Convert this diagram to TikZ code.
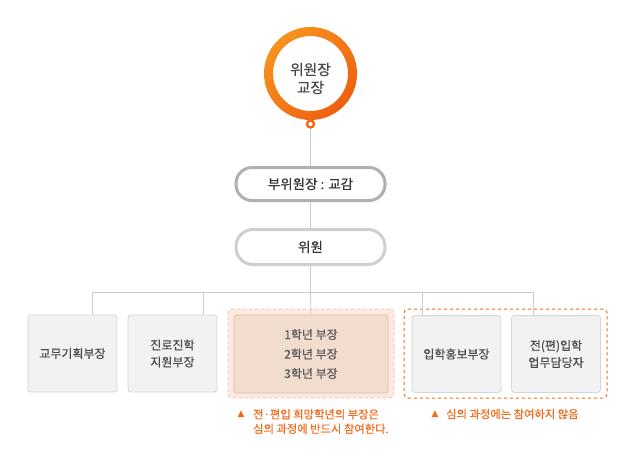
\documentclass[tikz,border=0pt]{standalone}
\usepackage{fontspec}
\setmainfont{Noto Sans CJK KR}[FakeBold=0.4]
\newfontfamily\symf{DejaVu Sans}
\definecolor{txt}{HTML}{4A4A4A}
\definecolor{org}{HTML}{F26B1D}
\definecolor{orgL}{HTML}{F7931E}
\definecolor{orgD}{HTML}{EF5F0F}
\definecolor{wire}{HTML}{CCCCCC}
\definecolor{boxfill}{HTML}{F2F2F2}
\definecolor{boxline}{HTML}{D6D6D6}
\definecolor{peach}{HTML}{FDE9DD}
\definecolor{peachin}{HTML}{F2DCCD}
\definecolor{peachline}{HTML}{DCC0B0}
\definecolor{peachdash}{HTML}{E3C3B3}
\tikzset{
  wireline/.style={draw=wire, line width=0.8pt},
  pillbox/.style={draw=#1, line width=3pt, fill=white, rounded corners=16pt,
    minimum width=149pt, minimum height=33pt, inner sep=0pt, text=black!80,
    font=\fontsize{13.5}{16}\selectfont},
  unitbox/.style={draw=boxline, line width=0.8pt, fill=boxfill, rounded corners=3pt,
    minimum width=89pt, minimum height=77pt, inner sep=0pt, text=txt, align=center,
    font=\fontsize{12}{17}\selectfont},
  notetext/.style={text=org, anchor=west, inner sep=0pt, align=left,
    font=\fontsize{11.3}{14.5}\selectfont},
  notemark/.style={text=org, inner sep=0pt, font=\symf\fontsize{9}{10}\selectfont}
}
\begin{document}
\begin{tikzpicture}[x=1pt,y=-1pt]
\useasboundingbox[fill=white] (0,0) rectangle (633,467);
% principal circle
\shade[left color=orgL, right color=orgD, shading angle=45, even odd rule]
  (310.5,73.5) circle (46.5) (310.5,73.5) circle (37.5);
\node[circle, minimum size=75pt, inner sep=0pt, align=center, text=black!72,
  font=\fontsize{14.8}{18}\selectfont] (chief) at (310.5,78.5) {위원장\\교장};
\node[circle, draw=org, line width=2.4pt, fill=white, minimum size=7pt, inner sep=0pt]
  (dot) at (310.5,124) {};
% bus
\coordinate (hub) at (310.5,292);
\coordinate (d1) at (92,292);
\coordinate (d2) at (203,292);
\coordinate (d4) at (422,292);
\coordinate (d5) at (533,292);
\draw[wireline] (dot.south) -- (hub);
\draw[wireline] (d1) -- (d5);
% pills
\node[pillbox=black!31] (vice) at (310.5,184) {부위원장 : 교감};
\node[pillbox=black!19, minimum height=35pt, rounded corners=17pt] (member) at (310.5,247) {위원};
% dashed groups
\node[draw=peachdash, dashed, line width=0.8pt, fill=peach, rounded corners=4pt,
  minimum width=166pt, minimum height=89pt, inner sep=0pt] (grpA) at (311,353.5) {};
\node[draw=org, dashed, line width=1pt, fill=white, rounded corners=4pt,
  minimum width=203pt, minimum height=89pt, inner sep=0pt] (grpB) at (505.5,353.5) {};
% boxes
\node[unitbox] (b1) at (72.5,353.5) {교무기획부장};
\node[unitbox] (b2) at (172.5,353.5) {진로진학\\지원부장};
\node[unitbox, draw=peachline, fill=peachin, minimum width=154pt, minimum height=78pt,
  font=\fontsize{12}{19.5}\selectfont, text=black!65] (b3) at (311,354) {1학년 부장\\2학년 부장\\3학년 부장};
\node[unitbox] (b4) at (456.5,354) {입학홍보부장};
\node[unitbox] (b5) at (556,354) {전(편)입학\\업무담당자};
% drops
\draw[wireline] (d1) -- (d1 |- b1.north);
\draw[wireline] (d2) -- (d2 |- b2.north);
\draw[wireline] (hub) -- (b3.north);
\draw[wireline] (d4) -- (d4 |- b4.north);
\draw[wireline] (d5) -- (d5 |- b5.north);
% notes
\node[notemark] (m1) at (241,414.5) {▲};
\node[notetext] (n1) at (253,421.5) {전·편입 희망학년의 부장은\\심의 과정에 반드시 참여한다.};
\node[notemark] (m2) at (435,414) {▲};
\node[notetext] (n2) at (446,414) {심의 과정에는 참여하지 않음};
\end{tikzpicture}
\end{document}
